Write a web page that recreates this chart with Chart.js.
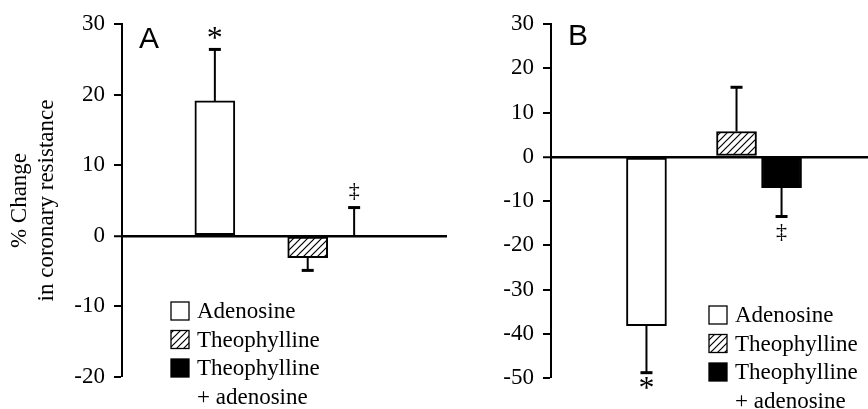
<!DOCTYPE html>
<html><head><meta charset="utf-8">
<script src="https://cdn.jsdelivr.net/npm/chart.js@4/dist/chart.umd.min.js"></script>
<style>
html,body{margin:0;padding:0;background:#fff;}
#wrap{position:relative;width:868px;height:409px;overflow:hidden;background:#fff;}
#ca{position:absolute;left:0;top:0;}
#cb{position:absolute;left:440px;top:0;}
</style></head><body>
<div id="wrap"><canvas id="ca" width="450" height="409"></canvas><canvas id="cb" width="428" height="409"></canvas></div>
<script>
// ---- data ----
const categories = ['Adenosine', 'Theophylline', 'Theophylline + adenosine'];
const legendLines = [['Adenosine'], ['Theophylline'], ['Theophylline', '+ adenosine']];
const valuesA = [19.1, -3.1, 0];
const errorsA = [7.3, 1.8, 4.0];
const marksA = ['*', '', '\u2021'];
const valuesB = [-38.2, 5.7, -7.0];
const errorsB = [10.6, 10.0, 6.5];
const marksB = ['*', '', '\u2021'];
const ticksA = [30, 20, 10, 0, -10, -20];
const ticksB = [30, 20, 10, 0, -10, -20, -30, -40, -50];
const panelLabels = ['A', 'B'];
const yTitle = ['% Change', 'in coronary resistance'];

// ---- layout (not data) ----
const SLOT_X = [2, 4, 5];
const SERIF = '"Liberation Serif", "Times New Roman", serif';
const SANS = '"Liberation Sans", Arial, sans-serif';

function makeHatch(ctx) {
  const s = 7, c = document.createElement('canvas');
  c.width = c.height = s;
  const g = c.getContext('2d');
  g.fillStyle = '#fff'; g.fillRect(0, 0, s, s);
  g.strokeStyle = '#000'; g.lineWidth = 1.2; g.beginPath();
  g.moveTo(-1, s + 1); g.lineTo(s + 1, -1);
  g.moveTo(-1, 1); g.lineTo(1, -1);
  g.moveTo(s - 1, s + 1); g.lineTo(s + 1, s - 1);
  g.stroke();
  return ctx.createPattern(c, 'repeat');
}

function overlay(cfg) {
  return {
    id: 'overlay',
    afterDatasetsDraw(chart) {
      const ctx = chart.ctx, ys = chart.scales.y, ca = chart.chartArea;
      const meta = chart.getDatasetMeta(0);
      const fills = chart.data.datasets[0].backgroundColor;
      ctx.save();
      ctx.strokeStyle = '#000'; ctx.fillStyle = '#000';
      cfg.values.forEach((v, i) => {
        const cx = meta.data[i].x;
        const dir = v >= 0 ? 1 : -1;
        const y0 = ys.getPixelForValue(v);
        const y1 = ys.getPixelForValue(v + dir * cfg.errors[i]);
        ctx.lineWidth = 2; ctx.beginPath(); ctx.moveTo(cx, y0); ctx.lineTo(cx, y1); ctx.stroke();
        ctx.lineWidth = 3; ctx.beginPath(); ctx.moveTo(cx - 6, y1); ctx.lineTo(cx + 6, y1); ctx.stroke();
        const m = cfg.marks[i];
        if (m) {
          ctx.textAlign = 'center'; ctx.textBaseline = 'alphabetic';
          let by;
          if (m === '*') {
            ctx.font = '32px ' + SERIF;
            by = dir > 0 ? y1 - 1 : y1 + 25;
          } else {
            ctx.font = '22px ' + SERIF;
            by = dir > 0 ? y1 - 11 : y1 + 22;
          }
          ctx.fillText(m, cx, by);
        }
      });
      // panel label
      ctx.font = '30px ' + SANS; ctx.textAlign = 'left'; ctx.textBaseline = 'alphabetic';
      ctx.fillText(cfg.label, ca.left + 17, ca.top + cfg.labelDy);
      // legend
      ctx.font = '23px ' + SERIF;
      let row = 0;
      legendLines.forEach((lines, i) => {
        const base = cfg.legY + row * 28.5;
        const sx = ca.left + cfg.legDx;
        ctx.fillStyle = fills[i];
        ctx.fillRect(sx, base - 16, 18, 18);
        ctx.lineWidth = 1.3; ctx.strokeStyle = '#000';
        ctx.strokeRect(sx, base - 16, 18, 18);
        ctx.fillStyle = '#000';
        lines.forEach((t, k) => {
          ctx.fillText(t, sx + 26, cfg.legY + (row + k) * 28.5);
        });
        row += lines.length;
      });
      ctx.restore();
    }
  };
}

function makeChart(id, values, errors, marks, ticks, label, opts) {
  const canvas = document.getElementById(id);
  const ctx = canvas.getContext('2d');
  const hatch = makeHatch(ctx);
  const fills = ['#ffffff', hatch, '#000000'];
  return new Chart(ctx, {
    type: 'bar',
    data: {
      labels: categories,
      datasets: [{
        data: categories.map((c, i) => ({ x: SLOT_X[i], y: values[i] })),
        backgroundColor: fills,
        borderColor: '#000',
        borderWidth: 2,
        borderSkipped: false,
        barThickness: 40
      }]
    },
    options: {
      responsive: false,
      animation: false,
      devicePixelRatio: 1,
      events: [],
      layout: { padding: opts.padding },
      plugins: { legend: { display: false }, tooltip: { enabled: false } },
      scales: {
        x: { type: 'linear', display: false, offset: false, min: opts.xmin, max: opts.xmax, grid: { display: false } },
        y: {
          min: Math.min(...ticks), max: Math.max(...ticks),
          afterBuildTicks: s => { s.ticks = ticks.slice().sort((a, b) => a - b).map(v => ({ value: v })); },
          afterFit: s => { s.width = opts.axisWidth; },
          border: { display: true, color: '#000', width: 2 },
          grid: {
            drawOnChartArea: true,
            color: c => (c.tick && c.tick.value === 0) ? '#000' : 'rgba(0,0,0,0)',
            lineWidth: c => (c.tick && c.tick.value === 0) ? 2.5 : 0,
            tickColor: '#000', tickWidth: 2, tickLength: 8, drawTicks: true
          },
          ticks: { color: '#000', font: { family: SERIF, size: 23 }, padding: 9, callback: v => String(v) },
          title: opts.title ? {
            display: true, text: yTitle, color: '#000',
            font: { family: SERIF, size: 23, lineHeight: 1.18 }, padding: { top: 6, bottom: 0 }
          } : { display: false }
        }
      }
    },
    plugins: [overlay({ values, errors, marks, label, labelDy: opts.labelDy, legDx: opts.legDx, legY: opts.legY })]
  });
}

makeChart('ca', valuesA, errorsA, marksA, ticksA, panelLabels[0], {
  padding: { left: 0, right: 3, top: 24, bottom: 32 }, axisWidth: 122, xmin: 0, xmax: 7,
  title: true, labelDy: 24, legDx: 49, legY: 318
});
makeChart('cb', valuesB, errorsB, marksB, ticksB, panelLabels[1], {
  padding: { left: 0, right: 0, top: 24, bottom: 31 }, axisWidth: 111, xmin: -0.12, xmax: 6.92,
  title: false, labelDy: 21, legDx: 158, legY: 322
});
</script>
</body></html>
